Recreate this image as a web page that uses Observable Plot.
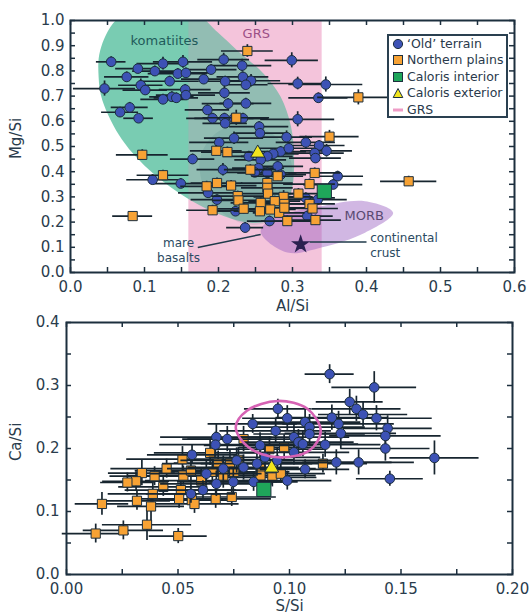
<!DOCTYPE html>
<html><head><meta charset="utf-8">
<script src="https://cdn.jsdelivr.net/npm/d3@7"></script>
<script src="https://cdn.jsdelivr.net/npm/@observablehq/plot@0.6"></script>
<style>
body{margin:0;background:#fff;font-family:"DejaVu Sans",sans-serif;}
#wrap{position:relative;width:530px;height:614px;overflow:hidden;}
#wrap > svg{display:block;}
.legend{position:absolute;left:387px;top:34px;width:117px;height:80px;border:2px solid #2a4050;background:#fff;font-size:12.5px;color:#2a3a4c;font-family:"DejaVu Sans",sans-serif;}
.legend .row{position:absolute;left:3px;height:16px;line-height:16px;white-space:nowrap;display:flex;align-items:center;}
.legend .row svg{display:block;margin-right:3px;flex:none;}
</style></head><body><div id="wrap"></div>
<script>
// ---------- Top panel data: [Al/Si, Mg/Si, xerr, yerr]
const oldTerrainTop = [
[0.055,0.836,0.02,0.02],[0.091,0.809,0.03,0.02],[0.114,0.799,0.03,0.02],[0.125,0.829,0.035,0.025],
[0.152,0.836,0.04,0.025],[0.145,0.789,0.04,0.02],[0.156,0.792,0.035,0.02],[0.134,0.759,0.04,0.02],
[0.076,0.776,0.03,0.02],[0.095,0.743,0.03,0.025],[0.101,0.724,0.03,0.02],[0.046,0.730,0.042,0.03],
[0.155,0.726,0.035,0.02],[0.156,0.704,0.04,0.02],[0.137,0.697,0.03,0.02],[0.143,0.693,0.03,0.02],
[0.125,0.687,0.03,0.02],[0.067,0.636,0.025,0.02],[0.080,0.655,0.025,0.02],[0.092,0.612,0.02,0.015],
[0.180,0.767,0.03,0.02],[0.190,0.805,0.035,0.02],[0.207,0.845,0.035,0.025],[0.232,0.821,0.04,0.025],
[0.233,0.776,0.035,0.02],[0.244,0.761,0.04,0.025],[0.237,0.745,0.03,0.02],[0.209,0.759,0.03,0.02],
[0.208,0.713,0.035,0.025],[0.213,0.670,0.035,0.02],[0.237,0.671,0.035,0.02],[0.185,0.645,0.03,0.02],
[0.192,0.612,0.035,0.02],[0.208,0.612,0.04,0.02],[0.209,0.592,0.03,0.02],[0.221,0.612,0.04,0.02],
[0.233,0.612,0.035,0.02],[0.255,0.579,0.04,0.02],[0.256,0.553,0.035,0.02],[0.299,0.842,0.036,0.03],
[0.307,0.750,0.04,0.025],[0.345,0.746,0.05,0.03],[0.335,0.693,0.04,0.02],[0.307,0.608,0.05,0.03],
[0.292,0.537,0.035,0.025],[0.284,0.480,0.035,0.02],[0.274,0.471,0.035,0.02],[0.266,0.461,0.035,0.02],
[0.257,0.447,0.035,0.02],[0.254,0.414,0.035,0.02],[0.249,0.397,0.04,0.02],[0.201,0.516,0.04,0.02],
[0.221,0.533,0.04,0.025],[0.241,0.461,0.035,0.02],[0.206,0.408,0.035,0.025],[0.165,0.450,0.03,0.02],
[0.111,0.368,0.035,0.02],[0.149,0.353,0.035,0.02],[0.318,0.516,0.04,0.025],[0.336,0.504,0.035,0.02],
[0.346,0.483,0.035,0.025],[0.330,0.474,0.04,0.02],[0.331,0.454,0.035,0.02],[0.361,0.382,0.035,0.02],
[0.355,0.349,0.04,0.02],[0.334,0.289,0.04,0.02],[0.295,0.493,0.04,0.02],[0.280,0.421,0.035,0.02],
[0.266,0.395,0.04,0.02],[0.284,0.388,0.035,0.02],[0.198,0.289,0.035,0.02],[0.186,0.316,0.04,0.02],
[0.223,0.243,0.03,0.02],[0.236,0.178,0.025,0.02],[0.269,0.204,0.03,0.02],[0.320,0.224,0.035,0.02],
[0.318,0.296,0.04,0.02]
];
const northernPlainsTop = [
[0.239,0.879,0.035,0.025],[0.224,0.614,0.045,0.03],[0.389,0.695,0.055,0.03],[0.350,0.539,0.04,0.025],
[0.097,0.467,0.035,0.02],[0.197,0.483,0.035,0.02],[0.212,0.478,0.035,0.02],[0.243,0.408,0.035,0.02],
[0.280,0.382,0.035,0.02],[0.330,0.395,0.035,0.02],[0.125,0.386,0.035,0.02],[0.184,0.342,0.035,0.02],
[0.198,0.355,0.035,0.02],[0.217,0.345,0.035,0.02],[0.266,0.355,0.035,0.02],[0.266,0.336,0.035,0.02],
[0.267,0.313,0.035,0.02],[0.308,0.313,0.035,0.02],[0.323,0.351,0.035,0.02],[0.226,0.303,0.035,0.02],
[0.227,0.286,0.035,0.02],[0.288,0.300,0.04,0.025],[0.276,0.283,0.035,0.02],[0.289,0.272,0.035,0.02],
[0.257,0.276,0.04,0.02],[0.256,0.243,0.035,0.02],[0.234,0.253,0.035,0.02],[0.192,0.247,0.035,0.02],
[0.270,0.250,0.035,0.02],[0.282,0.237,0.035,0.02],[0.289,0.257,0.035,0.02],[0.293,0.204,0.035,0.02],
[0.323,0.272,0.035,0.02],[0.327,0.254,0.035,0.02],[0.331,0.208,0.035,0.02],[0.084,0.224,0.027,0.015],
[0.457,0.362,0.038,0.02]
];
const calorisInteriorTop = [[0.343,0.322]];
const calorisExteriorTop = [[0.253,0.474]];
const continentalCrust = [[0.311,0.112]];

// Background compositional fields (outline points)
const grsBand = [{lo:0.16, hi:0.34, b:0, t:1}];
const komatiiteOutline = [
[0.061,1.0],[0.10,1.06],[0.16,1.05],[0.200,0.95],[0.225,0.882],[0.261,0.789],[0.284,0.697],[0.298,0.579],
[0.302,0.461],[0.300,0.342],[0.289,0.250],[0.266,0.204],[0.243,0.197],[0.207,0.224],[0.161,0.289],
[0.111,0.395],[0.070,0.526],[0.043,0.684],[0.038,0.776],[0.040,0.880]
];
const mareBasaltOutline = [
[0.175,0.45],[0.20,0.56],[0.25,0.58],[0.29,0.50],[0.30,0.35],[0.28,0.22],[0.24,0.19],[0.19,0.28]
];
const morbOutline = [
[0.257,0.160],[0.270,0.210],[0.339,0.263],[0.398,0.283],[0.436,0.237],[0.398,0.158],[0.339,0.099],[0.293,0.079]
];
const labelKomatiites = [{x:0.127, y:0.921, text:"komatiites"}];
const labelGRS = [{x:0.251, y:0.947, text:"GRS"}];
const labelMORB = [{x:0.397, y:0.224, text:"MORB"}];
const labelCrust = [{x:0.405, y:0.110, text:"continental\ncrust"}];
const labelMare = [{x:0.146, y:0.090, text:"mare\nbasalts"}];
const leaderLines = [
{x1:0.172,y1:0.099,x2:0.257,y2:0.151},
{x1:0.323,y1:0.121,x2:0.400,y2:0.121}
];
const xTicksTop = [0,0.05,0.1,0.15,0.2,0.25,0.3,0.35,0.4,0.45,0.5,0.55,0.6];
const yTicksTop = [0,0.05,0.1,0.15,0.2,0.25,0.3,0.35,0.4,0.45,0.5,0.55,0.6,0.65,0.7,0.75,0.8,0.85,0.9,0.95,1];
const xLabelsTop = [0,0.1,0.2,0.3,0.4,0.5,0.6];
const yLabelsTop = [0,0.1,0.2,0.3,0.4,0.5,0.6,0.7,0.8,0.9,1.0];

// ---------- Bottom panel data: [S/Si, Ca/Si, xerr, yerr]
const oldTerrainBottom = [
[0.118,0.318,0.011,0.015],[0.138,0.297,0.019,0.025],[0.127,0.274,0.015,0.02],[0.130,0.263,0.02,0.02],
[0.133,0.254,0.02,0.02],[0.139,0.248,0.025,0.02],[0.0948,0.263,0.015,0.015],[0.099,0.248,0.02,0.02],
[0.0835,0.239,0.02,0.015],[0.0938,0.228,0.025,0.02],[0.107,0.242,0.025,0.02],[0.109,0.234,0.025,0.02],
[0.109,0.223,0.025,0.02],[0.102,0.218,0.025,0.02],[0.104,0.210,0.025,0.02],[0.106,0.207,0.025,0.02],
[0.102,0.194,0.025,0.02],[0.119,0.249,0.025,0.02],[0.122,0.239,0.025,0.02],[0.123,0.224,0.025,0.025],
[0.116,0.206,0.025,0.02],[0.144,0.232,0.02,0.02],[0.143,0.220,0.025,0.02],[0.143,0.200,0.02,0.02],
[0.121,0.178,0.025,0.02],[0.131,0.178,0.025,0.02],[0.165,0.185,0.02,0.027],[0.145,0.152,0.015,0.012],
[0.107,0.167,0.02,0.015],[0.099,0.149,0.02,0.015],[0.0868,0.205,0.025,0.02],[0.0672,0.218,0.025,0.02],
[0.0668,0.206,0.025,0.02],[0.0721,0.215,0.02,0.02],[0.0563,0.190,0.02,0.015],[0.0627,0.160,0.025,0.02],
[0.0612,0.134,0.02,0.015],[0.0672,0.144,0.025,0.02],[0.0748,0.147,0.025,0.02],[0.0839,0.147,0.02,0.015],
[0.0558,0.128,0.02,0.015],[0.0794,0.170,0.025,0.02],[0.0854,0.176,0.025,0.02],[0.0945,0.181,0.025,0.02],
[0.089,0.186,0.025,0.02],[0.0703,0.168,0.025,0.02],[0.0763,0.181,0.025,0.02]
];
const northernPlainsBottom = [
[0.0159,0.112,0.012,0.018],[0.0131,0.065,0.015,0.015],[0.0255,0.070,0.018,0.015],[0.0361,0.079,0.02,0.025],
[0.0501,0.061,0.013,0.012],[0.0338,0.161,0.015,0.02],[0.0312,0.148,0.015,0.015],[0.0273,0.146,0.012,0.015],
[0.0316,0.117,0.015,0.015],[0.0379,0.108,0.015,0.025],[0.0387,0.128,0.02,0.02],[0.0395,0.156,0.02,0.015],
[0.0434,0.139,0.02,0.015],[0.0449,0.168,0.025,0.015],[0.0520,0.183,0.025,0.02],[0.0524,0.157,0.025,0.015],
[0.0558,0.165,0.025,0.02],[0.0513,0.134,0.025,0.015],[0.0505,0.120,0.02,0.015],[0.0562,0.118,0.02,0.015],
[0.0574,0.112,0.02,0.015],[0.0604,0.149,0.025,0.02],[0.0644,0.193,0.025,0.02],[0.0654,0.163,0.025,0.02],
[0.0669,0.120,0.025,0.015],[0.0680,0.176,0.025,0.02],[0.0703,0.157,0.025,0.02],[0.0733,0.177,0.025,0.02],
[0.0752,0.163,0.025,0.02],[0.0741,0.123,0.02,0.015],[0.0771,0.182,0.025,0.02],[0.0794,0.215,0.025,0.02],
[0.087,0.168,0.025,0.02],[0.091,0.199,0.025,0.02],[0.0976,0.202,0.02,0.02],[0.0923,0.154,0.02,0.015],
[0.0961,0.160,0.02,0.015],[0.115,0.176,0.02,0.015],[0.087,0.157,0.025,0.02]
];
const calorisInteriorBottom = [[0.0885,0.135]];
const calorisExteriorBottom = [[0.092,0.169]];
const grsEllipseOutline = [
[0.0759,0.234],[0.0809,0.260],[0.0948,0.2755],[0.108,0.263],[0.114,0.228],[0.109,0.197],[0.0948,0.186],[0.0816,0.202]
];
const xTicksBottom = [0,0.025,0.05,0.075,0.1,0.125,0.15,0.175,0.2];
const yTicksBottom = [0,0.05,0.1,0.15,0.2,0.25,0.3,0.35,0.4];
const xLabelsBottom = [0,0.05,0.1,0.15,0.2];
const yLabelsBottom = [0,0.1,0.2,0.3,0.4];

// ---------- styling
const INK = "#1c2f3e", TXT = "#2a3c4c", BAR = "#17252f";
const BLUE = "#3d52b5", ORANGE = "#f7a234", GREEN = "#1fa65a", YELLOW = "#f2e51e";
const PINK = "#f4c4dc";
const pts = a => a.map(([x,y,ex,ey]) => ({x,y,ex,ey}));
const xy = a => a.map(([x,y]) => ({x,y}));

function errMarks(data, color, sym, r) {
  return [
    Plot.ruleY(data, {y:"y", x1:d=>d.x-d.ex, x2:d=>d.x+d.ex, stroke:BAR, strokeWidth:1.7}),
    Plot.ruleX(data, {x:"x", y1:d=>d.y-d.ey, y2:d=>d.y+d.ey, stroke:BAR, strokeWidth:1.7}),
    Plot.dot(data, {x:"x", y:"y", symbol:sym, r, fill:color, stroke:INK, strokeWidth:1})
  ];
}
function frameTicks(xt, yt, iw, ih) {
  return [
    Plot.tickX(xt, {x:d=>d, insetTop:ih-5, stroke:INK, strokeWidth:1.5}),
    Plot.tickX(xt, {x:d=>d, insetBottom:ih-5, stroke:INK, strokeWidth:1.5}),
    Plot.tickY(yt, {y:d=>d, insetRight:iw-5, stroke:INK, strokeWidth:1.5}),
    Plot.tickY(yt, {y:d=>d, insetLeft:iw-5, stroke:INK, strokeWidth:1.5})
  ];
}

// ---------- top plot
const T = {w:530, h:316, mt:20, mb:44, ml:70, mr:16};
const topIW = T.w-T.ml-T.mr, topIH = T.h-T.mt-T.mb;
const topPlot = Plot.plot({
  width:T.w, height:T.h, marginTop:T.mt, marginBottom:T.mb, marginLeft:T.ml, marginRight:T.mr,
  style:{fontFamily:"DejaVu Sans", fontSize:"15px", color:TXT, background:"transparent"},
  x:{domain:[0,0.6]}, y:{domain:[0,1]},
  marks:[
    Plot.rect(grsBand, {x1:"lo", x2:"hi", y1:"b", y2:"t", fill:PINK}),
    Plot.line(xy(komatiiteOutline), {x:"x", y:"y", curve:"catmull-rom-closed", fill:"#45b894", fillOpacity:0.72, stroke:"none", clip:true}),
    Plot.rect(grsBand, {x1:"lo", x2:"hi", y1:"b", y2:"t", fill:PINK, fillOpacity:0.22}),
    Plot.line(xy(mareBasaltOutline), {x:"x", y:"y", curve:"catmull-rom-closed", fill:"#2b6e70", fillOpacity:0.12, stroke:"none", clip:true}),
    Plot.line(xy(morbOutline), {x:"x", y:"y", curve:"catmull-rom-closed", fill:"#9a60c0", fillOpacity:0.45, stroke:"none", clip:true}),
    Plot.link(leaderLines, {x1:"x1", y1:"y1", x2:"x2", y2:"y2", stroke:"#1f3a4a", strokeWidth:1.5}),
    Plot.text(labelKomatiites, {x:"x", y:"y", text:"text", fill:"#1f5a5a", fontSize:13}),
    Plot.text(labelGRS, {x:"x", y:"y", text:"text", fill:"#9c4f86", fontSize:13}),
    Plot.text(labelMORB, {x:"x", y:"y", text:"text", fill:"#5a4a72", fontSize:13}),
    Plot.text(labelCrust, {x:"x", y:"y", text:"text", fill:"#2b4a62", fontSize:12, textAnchor:"start", lineHeight:1.2}),
    Plot.text(labelMare, {x:"x", y:"y", text:"text", fill:"#2b4a62", fontSize:12, lineHeight:1.2}),
    ...errMarks(pts(oldTerrainTop), BLUE, "circle", 4.8),
    ...errMarks(pts(northernPlainsTop), ORANGE, "square", 5.2),
    Plot.dot(xy(calorisInteriorTop), {x:"x", y:"y", symbol:"square", r:8, fill:GREEN, stroke:INK, strokeWidth:1}),
    Plot.dot(xy(calorisExteriorTop), {x:"x", y:"y", symbol:"triangle", r:5.2, fill:YELLOW, stroke:INK, strokeWidth:1}),
    Plot.dot(xy(continentalCrust), {x:"x", y:"y", symbol:"star", r:4.6, fill:"#2b2150", stroke:"#2b2150"}),
    ...frameTicks(xTicksTop, yTicksTop, topIW, topIH),
    Plot.frame({stroke:INK, strokeWidth:2}),
    Plot.axisX(xLabelsTop, {tickSize:0, tickPadding:9, tickFormat:d=>d.toFixed(1), label:null, fontSize:15}),
    Plot.axisY(yLabelsTop, {tickSize:0, tickPadding:6, tickFormat:d=>d.toFixed(1), label:null, fontSize:15}),
    Plot.text(["Al/Si"], {frameAnchor:"bottom", lineAnchor:"middle", dy:34, fontSize:15, fill:TXT}),
    Plot.text([{y:0.45}], {y:"y", frameAnchor:"left", lineAnchor:"middle", dx:-54, rotate:-90, text:()=>"Mg/Si", fontSize:15, fill:TXT})
  ]
});

// ---------- bottom plot
const B = {w:530, h:298, mt:6, mb:40, ml:66, mr:18};
const botIW = B.w-B.ml-B.mr, botIH = B.h-B.mt-B.mb;
const botPlot = Plot.plot({
  width:B.w, height:B.h, marginTop:B.mt, marginBottom:B.mb, marginLeft:B.ml, marginRight:B.mr,
  style:{fontFamily:"DejaVu Sans", fontSize:"15px", color:TXT, background:"transparent", overflow:"visible"},
  x:{domain:[0,0.2]}, y:{domain:[0,0.4]},
  marks:[
    ...errMarks(pts(northernPlainsBottom), ORANGE, "square", 5.2),
    ...errMarks(pts(oldTerrainBottom), BLUE, "circle", 4.8),
    Plot.dot(xy(calorisInteriorBottom), {x:"x", y:"y", symbol:"square", r:8, fill:GREEN, stroke:INK, strokeWidth:1}),
    Plot.dot(xy(calorisExteriorBottom), {x:"x", y:"y", symbol:"triangle", r:5.2, fill:YELLOW, stroke:INK, strokeWidth:1}),
    Plot.line(xy(grsEllipseOutline), {x:"x", y:"y", curve:"catmull-rom-closed", stroke:"#d663b4", strokeWidth:2.6, fill:"none"}),
    ...frameTicks(xTicksBottom, yTicksBottom, botIW, botIH),
    Plot.frame({stroke:INK, strokeWidth:2}),
    Plot.axisX(xLabelsBottom, {tickSize:0, tickPadding:9, tickFormat:d=>d.toFixed(2), label:null, fontSize:15}),
    Plot.axisY(yLabelsBottom, {tickSize:0, tickPadding:7, tickFormat:d=>d.toFixed(1), label:null, fontSize:15}),
    Plot.text(["S/Si"], {frameAnchor:"bottom", lineAnchor:"middle", dy:32, fontSize:15, fill:TXT}),
    Plot.text([{y:0.18}], {y:"y", frameAnchor:"left", lineAnchor:"middle", dx:-50, rotate:-90, text:()=>"Ca/Si", fontSize:15, fill:TXT})
  ]
});

const wrap = document.getElementById("wrap");
wrap.appendChild(topPlot);
wrap.appendChild(botPlot);

// ---------- legend (top panel)
const legendItems = [
  {label:"\u2018Old\u2019 terrain", shape:"circle", color:BLUE},
  {label:"Northern plains", shape:"square", color:ORANGE},
  {label:"Caloris interior", shape:"square", color:GREEN},
  {label:"Caloris exterior", shape:"triangle", color:YELLOW},
  {label:"GRS", shape:"line", color:"#ee9cc6"}
];
const lg = document.createElement("div");
lg.className = "legend";
legendItems.forEach((it, i) => {
  const row = document.createElement("div");
  row.className = "row";
  row.style.top = (i*16.4) + "px";
  let s;
  if (it.shape === "circle") s = `<circle cx="6" cy="6" r="4.6" fill="${it.color}" stroke="${INK}"/>`;
  else if (it.shape === "square") s = `<rect x="1.5" y="1.5" width="9" height="9" fill="${it.color}" stroke="${INK}"/>`;
  else if (it.shape === "triangle") s = `<path d="M6,1.5L10.8,10.5L1.2,10.5Z" fill="${it.color}" stroke="${INK}"/>`;
  else s = `<line x1="1" y1="6" x2="11" y2="6" stroke="${it.color}" stroke-width="3"/>`;
  row.innerHTML = `<svg width="12" height="12">${s}</svg><span>${it.label}</span>`;
  lg.appendChild(row);
});
wrap.appendChild(lg);
</script>
</body></html>
